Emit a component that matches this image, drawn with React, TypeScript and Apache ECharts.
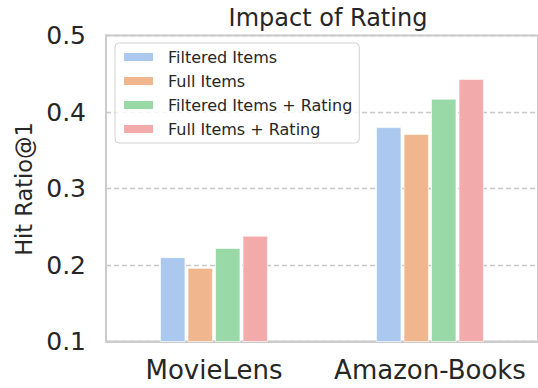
import React, { useEffect, useRef } from "react";
import * as echarts from "echarts";

const categories = ["MovieLens", "Amazon-Books"];
const seriesNames = ["Filtered Items", "Full Items", "Filtered Items + Rating", "Full Items + Rating"];
const filteredItems = [0.210, 0.380];
const fullItems = [0.196, 0.371];
const filteredItemsRating = [0.222, 0.417];
const fullItemsRating = [0.238, 0.443];
const seriesValues = [filteredItems, fullItems, filteredItemsRating, fullItemsRating];
const colors = ["#abc9ee", "#f0b78f", "#98d9a7", "#f2abaa"];
const yTicks = [0.1, 0.2, 0.3, 0.4, 0.5];

const FONT = "DejaVu Sans";
const TEXT = "#262626";

export default function App() {
  const ref = useRef<HTMLDivElement>(null);
  useEffect(() => {
    if (!ref.current) return;
    const chart = echarts.init(ref.current, null, { renderer: "svg" });
    chart.setOption({
      animation: false,
      textStyle: { fontFamily: FONT, color: TEXT },
      title: {
        text: "Impact of Rating",
        left: 323,
        top: 1,
        textAlign: "center",
        textStyle: { fontFamily: FONT, fontSize: 24, fontWeight: "normal", color: TEXT },
      },
      legend: {
        orient: "vertical",
        left: 115,
        top: 43,
        padding: [6, 7, 6, 7],
        itemWidth: 31,
        itemHeight: 10,
        itemGap: 8,
        icon: "rect",
        backgroundColor: "rgba(255,255,255,0.8)",
        borderColor: "#d0d0d0",
        borderWidth: 1,
        borderRadius: 4,
        textStyle: { fontFamily: FONT, fontSize: 16, color: TEXT, lineHeight: 16, padding: [0, 0, 0, 9] },
        data: seriesNames,
      },
      grid: {
        left: 106,
        right: -5,
        top: 35.5,
        bottom: 46.5,
        show: true,
        borderColor: "#cccccc",
        borderWidth: 2,
        backgroundColor: "transparent",
      },
      xAxis: {
        type: "category",
        data: categories,
        axisLine: { show: true, lineStyle: { color: "#cccccc", width: 2 } },
        axisTick: { show: false },
        axisLabel: { fontFamily: FONT, fontSize: 26, color: TEXT, margin: 15, interval: 0, hideOverlap: false },
      },
      yAxis: {
        type: "value",
        min: 0.1,
        max: 0.5,
        interval: 0.1,
        axisLine: { show: true, lineStyle: { color: "#cccccc", width: 2 } },
        axisTick: { show: false },
        axisLabel: {
          fontFamily: FONT,
          fontSize: 25,
          color: TEXT,
          margin: 20,
          formatter: (v: number) => (yTicks.some((t) => Math.abs(t - v) < 1e-9) ? v.toFixed(1) : ""),
        },
        splitLine: { show: true, lineStyle: { color: "#c8c8c8", width: 1.3, type: [5, 3] } },
      },
      graphic: [
        {
          type: "text",
          x: 24,
          y: 189,
          rotation: Math.PI / 2,
          style: {
            text: "Hit Ratio@1",
            fontFamily: FONT,
            fontSize: 22.5,
            fill: TEXT,
            textAlign: "center",
            textVerticalAlign: "middle",
          },
        },
      ],
      series: seriesNames.map((name, i) => ({
        name,
        type: "bar",
        data: seriesValues[i],
        barWidth: 25,
        barGap: "10%",
        itemStyle: { color: colors[i], borderColor: "#ffffff", borderWidth: 0.6 },
      })),
    });
    return () => chart.dispose();
  }, []);
  return <div ref={ref} style={{ width: 538, height: 388, position: "absolute", left: 0, top: 0 }} />;
}
